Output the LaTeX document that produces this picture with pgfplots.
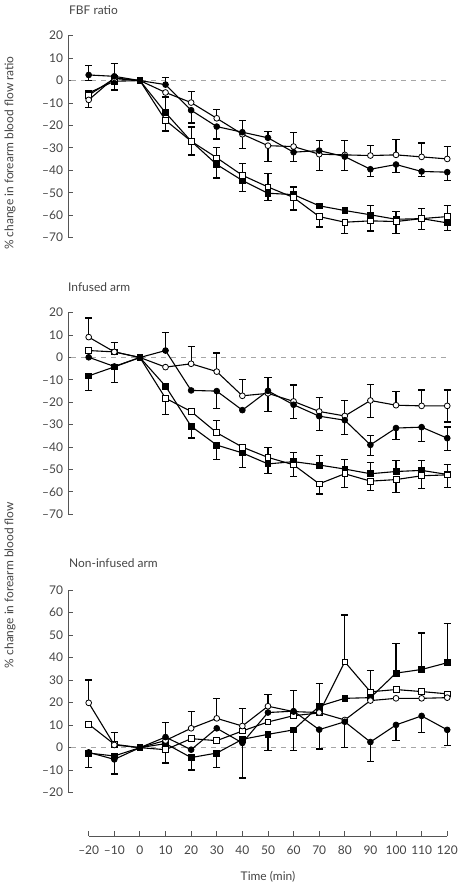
\documentclass[border=0pt]{standalone}
\usepackage{pgfplots}
\pgfplotsset{compat=1.18}
\usepackage{fontspec}
\setmainfont{Lato}
\definecolor{txt}{HTML}{444444}
\definecolor{axc}{HTML}{555555}
\newcommand{\tf}{\fontsize{12}{14}\selectfont}
\pgfplotsset{
  panel/.style={
    scale only axis, clip=false,
    xmin=-28.08, xmax=120.69, width=381bp,
    axis x line=none, axis y line*=left,
    axis line style={axc, line width=0.9pt},
    tick align=inside, major tick length=5bp,
    tick style={axc, line width=0.9pt},
    xtick=\empty,
    yticklabel style={font=\tf, text=txt, xshift=-1.5bp},
  },
  fc/.style={black, line width=1.1pt, mark=*, mark size=2.9pt, mark options={fill=black, line width=0.8pt}},
  oc/.style={black, line width=1.1pt, mark=*, mark size=2.9pt, mark options={fill=white, line width=0.8pt}},
  fs/.style={black, line width=1.1pt, mark=square*, mark size=2.9pt, mark options={fill=black, line width=0.8pt}},
  os/.style={black, line width=1.1pt, mark=square*, mark size=2.9pt, mark options={fill=white, line width=0.8pt}},
  ebp/.style={forget plot, draw=none, mark=none, error bars/.cd, y dir=plus, y explicit,
    error bar style={draw=black, line width=1.2pt},
    error mark options={rotate=90, draw=black, mark size=3.6pt, line width=1.2pt}},
  ebm/.style={forget plot, draw=none, mark=none, error bars/.cd, y dir=minus, y explicit,
    error bar style={draw=black, line width=1.2pt},
    error mark options={rotate=90, draw=black, mark size=3.6pt, line width=1.2pt}},
  zl/.style={forget plot, black!35, line width=0.7pt, dash pattern=on 5bp off 5bp},
}
\begin{document}
\begin{tikzpicture}
\path[use as bounding box] (0,0) rectangle (460bp,896bp);
% ---------------- Panel 1: FBF ratio
\begin{axis}[panel, at={(68bp,658.3bp)}, anchor=south west, height=202bp,
  ymin=-70, ymax=20, ytick={-70,-60,...,20},
  yticklabels={–70,–60,–50,–40,–30,–20,–10,0,10,20}]
\addplot[zl] coordinates {(-27,0) (120,0)};
% error bars
\addplot[ebp] coordinates {(-20,2.5)+-(0,4.3) (-10,1.9)+-(0,5.6) (10,-1.8)+-(0,3.3) (40,-23)+-(0,5.2) (50,-25.5)+-(0,2.8) (70,-31.2)+-(0,4.5)};
\addplot[ebm] coordinates {(-20,2.5)+-(0,2.5) (20,-13.2)+-(0,5.7) (30,-20.5)+-(0,5.5) (60,-31.9)+-(0,4.2) (80,-33.9)+-(0,6.1) (90,-39.5)+-(0,3.1) (100,-37.4)+-(0,3.7) (110,-40.5)+-(0,2.4) (120,-40.8)+-(0,3.6)};
\addplot[ebp] coordinates {(20,-9.8)+-(0,4.8) (30,-16.8)+-(0,3.9) (60,-29.4)+-(0,6.1) (80,-33.1)+-(0,6.4) (90,-33.4)+-(0,4.6) (100,-33.1)+-(0,6.8) (110,-34)+-(0,6.2) (120,-34.9)+-(0,5.6)};
\addplot[ebm] coordinates {(-20,-8.6)+-(0,3.4) (40,-23.9)+-(0,6.5) (50,-29)+-(0,7.1) (70,-32.8)+-(0,7.2)};
\addplot[ebp] coordinates {(10,-14.3)+-(0,7) (60,-50.8)+-(0,3.4) (90,-59.8)+-(0,4) (100,-61.8)+-(0,3.4)};
\addplot[ebm] coordinates {(-10,-0.3)+-(0,3.9) (20,-27)+-(0,6.2) (30,-37.4)+-(0,6) (40,-44.5)+-(0,4.9) (50,-50.2)+-(0,3.3) (110,-61.5)+-(0,4.8) (120,-63.4)+-(0,3.3)};
\addplot[ebp] coordinates {(20,-27)+-(0,6.3) (30,-34.4)+-(0,4.6) (40,-42.2)+-(0,5.2) (50,-47.4)+-(0,5.9) (110,-61.5)+-(0,4.6) (120,-60.6)+-(0,4.9)};
\addplot[ebm] coordinates {(10,-17.7)+-(0,4.8) (60,-52.1)+-(0,5.6) (70,-60.6)+-(0,4.6) (80,-63.1)+-(0,4.9) (90,-62.5)+-(0,4.5) (100,-62.8)+-(0,5.2)};
% series
\addplot[fs] coordinates {(-20,-5.5)(-10,-0.3)(0,0)(10,-14.3)(20,-27)(30,-37.4)(40,-44.5)(50,-50.2)(60,-50.8)(70,-55.8)(80,-57.9)(90,-59.8)(100,-61.8)(110,-61.5)(120,-63.4)};
\addplot[os] coordinates {(-20,-6.5)(-10,0.9)(0,0)(10,-17.7)(20,-27)(30,-34.4)(40,-42.2)(50,-47.4)(60,-52.1)(70,-60.6)(80,-63.1)(90,-62.5)(100,-62.8)(110,-61.5)(120,-60.6)};
\addplot[oc] coordinates {(-20,-8.6)(-10,1.2)(0,0)(10,-5.3)(20,-9.8)(30,-16.8)(40,-23.9)(50,-29)(60,-29.4)(70,-32.8)(80,-33.1)(90,-33.4)(100,-33.1)(110,-34)(120,-34.9)};
\addplot[fc] coordinates {(-20,2.5)(-10,1.9)(0,0)(10,-1.8)(20,-13.2)(30,-20.5)(40,-23)(50,-25.5)(60,-31.9)(70,-31.2)(80,-33.9)(90,-39.5)(100,-37.4)(110,-40.5)(120,-40.8)};
\end{axis}
% ---------------- Panel 2: Infused arm
\begin{axis}[panel, at={(68bp,381.7bp)}, anchor=south west, height=201.6bp,
  ymin=-70, ymax=20, ytick={-70,-60,...,20},
  yticklabels={–70,–60,–50,–40,–30,–20,–10,0,10,20}]
\addplot[zl] coordinates {(-27,0) (120,0)};
\addplot[ebp] coordinates {(10,3.1)+-(0,8.2) (50,-14.9)+-(0,6) (90,-39)+-(0,4.2) (120,-36)+-(0,5)};
\addplot[ebm] coordinates {(30,-15)+-(0,7.6) (60,-21.1)+-(0,6.2) (70,-26.2)+-(0,6.3) (80,-28)+-(0,6.3) (90,-39)+-(0,4.8) (100,-31.5)+-(0,5.1) (110,-31.1)+-(0,6.5) (120,-36)+-(0,5.4)};
\addplot[ebp] coordinates {(-20,9.1)+-(0,8.5) (20,-2.8)+-(0,7.7) (30,-6.3)+-(0,8.3) (40,-17.1)+-(0,7.1) (60,-19.6)+-(0,7.3) (70,-24.1)+-(0,6.3) (80,-26.1)+-(0,6.8) (90,-19.2)+-(0,7.3) (100,-21.3)+-(0,6) (110,-21.6)+-(0,7.1) (120,-21.6)+-(0,7.1)};
\addplot[ebm] coordinates {(50,-16)+-(0,8) (90,-19.2)+-(0,7.5) (120,-21.6)+-(0,7.2)};
\addplot[ebp] coordinates {(60,-46.5)+-(0,4.2) (70,-48)+-(0,4.3) (80,-49.8)+-(0,4.2) (90,-51.9)+-(0,5.2) (100,-50.9)+-(0,4.8) (110,-50.4)+-(0,4.3) (120,-52.2)+-(0,4.5)};
\addplot[ebm] coordinates {(-20,-8.2)+-(0,6.7) (-10,-4.2)+-(0,6.8) (20,-30.7)+-(0,5.2) (30,-39.1)+-(0,6.3) (40,-42.6)+-(0,6.4) (50,-47.5)+-(0,4.2)};
\addplot[ebp] coordinates {(-10,2.5)+-(0,4.3) (30,-33.6)+-(0,5.4) (50,-44.6)+-(0,4.5)};
\addplot[ebm] coordinates {(10,-18.2)+-(0,7.1) (60,-47.9)+-(0,5.2) (70,-56.4)+-(0,4.5) (80,-51.9)+-(0,6) (90,-55.2)+-(0,4.3) (100,-54.5)+-(0,5.8) (110,-52.8)+-(0,5.7) (120,-52.4)+-(0,5.5)};
\addplot[fs] coordinates {(-20,-8.2)(-10,-4.2)(0,0)(10,-12.8)(20,-30.7)(30,-39.1)(40,-42.6)(50,-47.5)(60,-46.5)(70,-48)(80,-49.8)(90,-51.9)(100,-50.9)(110,-50.4)(120,-52.2)};
\addplot[os] coordinates {(-20,3.1)(-10,2.5)(0,0)(10,-18.2)(20,-24.1)(30,-33.6)(40,-40)(50,-44.6)(60,-47.9)(70,-56.4)(80,-51.9)(90,-55.2)(100,-54.5)(110,-52.8)(120,-52.4)};
\addplot[oc] coordinates {(-20,9.1)(-10,2.5)(0,0)(10,-4.3)(20,-2.8)(30,-6.3)(40,-17.1)(50,-16)(60,-19.6)(70,-24.1)(80,-26.1)(90,-19.2)(100,-21.3)(110,-21.6)(120,-21.6)};
\addplot[fc] coordinates {(-20,0.1)(-10,-4)(0,0)(10,3.1)(20,-14.7)(30,-15)(40,-23.5)(50,-14.9)(60,-21.1)(70,-26.2)(80,-28)(90,-39)(100,-31.5)(110,-31.1)(120,-36)};
\end{axis}
% ---------------- Panel 3: Non-infused arm
\begin{axis}[panel, at={(68bp,103.3bp)}, anchor=south west, height=202.7bp,
  ymin=-20, ymax=70, ytick={-20,-10,...,70},
  yticklabels={–20,–10,0,10,20,30,40,50,60,70}]
\addplot[zl] coordinates {(-27,0) (120,0)};
\addplot[ebp] coordinates {(10,4.7)+-(0,6.4) (60,16.2)+-(0,9)};
\addplot[ebm] coordinates {(-20,-2.1)+-(0,6.8) (-10,-5.2)+-(0,6.5) (40,2.1)+-(0,15.6) (70,8)+-(0,8.6) (80,11.5)+-(0,11.5) (90,2.5)+-(0,8.7) (100,10.1)+-(0,6.8) (110,14.1)+-(0,7.4) (120,7.9)+-(0,7)};
\addplot[ebp] coordinates {(-20,19.9)+-(0,10.1) (20,8.6)+-(0,7.6) (30,13)+-(0,9) (40,9.6)+-(0,7.7) (50,18.4)+-(0,5.2)};
\addplot[ebp] coordinates {(70,18.4)+-(0,10) (100,33.1)+-(0,13.2) (110,34.7)+-(0,16.2) (120,37.7)+-(0,17.5)};
\addplot[ebm] coordinates {(20,-4.4)+-(0,5.5) (30,-2.4)+-(0,6.5) (50,5.9)+-(0,7.1) (60,7.9)+-(0,9.1)};
\addplot[ebp] coordinates {(-10,1.5)+-(0,5.2) (80,38.1)+-(0,20.8) (90,24.8)+-(0,9.6)};
\addplot[ebm] coordinates {(10,-0.9)+-(0,5.9)};
\addplot[fs] coordinates {(-20,-2.4)(-10,-3.7)(0,0)(10,1.8)(20,-4.4)(30,-2.4)(40,3.7)(50,5.9)(60,7.9)(70,18.4)(80,21.9)(90,22.2)(100,33.1)(110,34.7)(120,37.7)};
\addplot[os] coordinates {(-20,10.4)(-10,1.5)(0,0)(10,-0.9)(20,4)(30,3.1)(40,7.4)(50,11.4)(60,14.2)(70,15.4)(80,38.1)(90,24.8)(100,25.8)(110,24.9)(120,23.9)};
\addplot[oc] coordinates {(-20,19.9)(-10,1.2)(0,0)(10,3.2)(20,8.6)(30,13)(40,9.6)(50,18.4)(60,16)(70,15.6)(80,12.3)(90,20.9)(100,21.9)(110,21.9)(120,22.2)};
\addplot[fc] coordinates {(-20,-2.1)(-10,-5.2)(0,0)(10,4.7)(20,-0.9)(30,8.6)(40,2.1)(50,15.6)(60,16.2)(70,8)(80,11.5)(90,2.5)(100,10.1)(110,14.1)(120,7.9)};
\end{axis}
% ---------------- shared x axis
\begin{axis}[scale only axis, at={(88.7bp,60bp)}, anchor=south west,
  width=358.6bp, height=10bp, xmin=-20, xmax=120, ymin=0, ymax=1,
  axis y line=none, axis x line*=bottom,
  axis line style={axc, line width=0.9pt},
  tick align=inside, major tick length=5bp, tick style={axc, line width=0.9pt},
  xtick={-20,-10,...,120},
  xticklabels={–20,–10,0,10,20,30,40,50,60,70,80,90,100,110,120},
  xticklabel style={font=\tf, text=txt, yshift=-6bp},
  xlabel={Time (min)}, xlabel style={font=\tf, text=txt, yshift=-10bp}]
\addplot[draw=none] coordinates {(0,0)};
\end{axis}
% ---------------- texts
\begin{scope}[every node/.style={font=\tf, text=txt, inner sep=0pt}]
\node[anchor=west] at (69bp,886bp) {FBF ratio};
\node[anchor=west] at (68bp,609bp) {Infused arm};
\node[anchor=west] at (69bp,333bp) {Non-infused arm};
\node[rotate=90] at (10bp,743bp) {\% change in forearm blood flow ratio};
\node[rotate=90] at (10bp,311bp) {\% change in forearm blood flow};
\end{scope}
\end{tikzpicture}
\end{document}
